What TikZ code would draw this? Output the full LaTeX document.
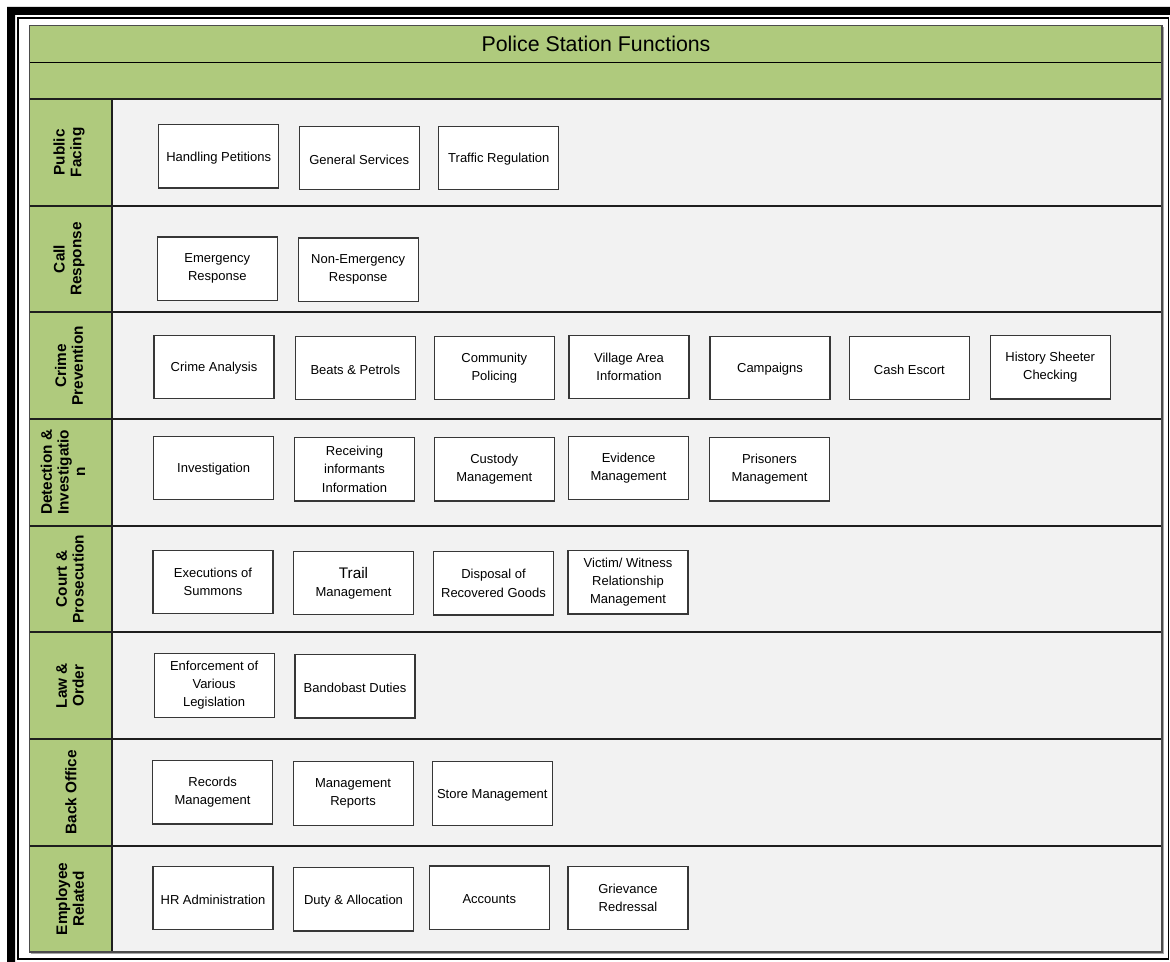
\documentclass[tikz,border=0pt]{standalone}
\usepackage{fontspec}
\setmainfont{Liberation Sans}
\definecolor{hdrgreen}{RGB}{175,202,125}
\definecolor{lanegray}{RGB}{242,242,242}
\definecolor{boxedge}{RGB}{55,55,55}
\definecolor{rule}{RGB}{30,30,30}

\begin{document}
\begin{tikzpicture}[x=0.75pt,y=-0.75pt,
  fn/.style={draw=boxedge, line width=0.9pt, fill=white, minimum width=90pt,
    minimum height=47.5pt, inner sep=1pt, align=center,
    font=\fontsize{9.75}{13.6}\selectfont,
    execute at begin node={\rule{0pt}{9.4pt}}},
  lanelabel/.style={rotate=90, align=center, inner sep=0pt,
    font=\bfseries\fontsize{11.5}{12.5}\selectfont},
  lanerule/.style={line width=1.5pt, draw=rule},
  pageframe/.style={line width=1.2pt, draw=black},
]
\useasboundingbox (0,0) rectangle (1170,962);
\fill[white] (0,0) rectangle (1170,962);

% page border: thick outer band with thin inner line
\fill[black] (7,962) -- (7,7) -- (1170,7) -- (1170,15) -- (15,15) -- (15,962) -- cycle;
\draw[pageframe] (18.2,18.2) -- (1168.3,18.2) -- (1168.3,959) -- (18.2,959) -- cycle;

% table background
\fill[hdrgreen] (29.5,25.7) rectangle (1162,99);
\fill[hdrgreen] (29.5,99) rectangle (112,952);
\fill[lanegray] (112,99) rectangle (1162,952);

% shadow of the table edge
\draw[gray!70, line width=1pt] (1163.6,27) -- (1163.6,953.5) -- (31,953.5);

% header rules
\draw[black, line width=0.9pt] (29.5,62.3) -- (1162,62.3);
\draw[lanerule, line width=1.8pt] (29.5,99) -- (1162,99);

% lane separators
\foreach \yy in {205.7,312.3,419,525.7,632.3,739,845.7}
  \draw[lanerule] (29.5,\yy) -- (1162,\yy);
\draw[lanerule, line width=1.3pt] (112,99) -- (112,952);

% table outline
\draw[black!70, line width=1pt] (29.5,25.7) rectangle (1162,952);

% title
\node[font=\fontsize{16}{18}\selectfont] (title) at (596,44) {Police Station Functions};

% lane labels
\node[lanelabel] (lpub)  at (69,152.3) {Public\\Facing};
\node[lanelabel] (lcall) at (69,259)   {Call\\Response};
\node[lanelabel] (lcri)  at (69,365.7) {Crime\\Prevention};
\node[lanelabel] (ldet)  at (63,472.3) {Detection \&\\Investigatio\\n};
\node[lanelabel] (lcrt)  at (70,579)   {Court \&\\Prosecution};
\node[lanelabel] (llaw)  at (70,685.7) {Law \&\\Order};
\node[lanelabel] (lbck)  at (71,792.3) {Back Office};
\node[lanelabel] (lemp)  at (70,899)   {Employee\\Related};

% Public Facing
\node[fn] (pet)  at (218.7,156.3) {Handling Petitions};
\node[fn] (gen)  at (359.2,158)   {General Services};
\node[fn] (traf) at (498.8,158)   {Traffic Regulation};

% Call Response
\node[fn] (emer)  at (217.3,268.7) {Emergency\\Response};
\node[fn] (nonem) at (358.2,269.7) {Non-Emergency\\Response};

% Crime Prevention
\node[fn] (crime) at (214,367)     {Crime Analysis};
\node[fn] (beats) at (355.3,368.2) {Beats \& Petrols};
\node[fn] (comm)  at (494.3,368)   {Community\\Policing};
\node[fn] (vill)  at (629,367)     {Village Area\\Information};
\node[fn] (camp)  at (770,368)     {Campaigns};
\node[fn] (cash)  at (909.3,368)   {Cash Escort};
\node[fn] (hist)  at (1050.2,367.3){History Sheeter\\Checking};

% Detection & Investigation
\node[fn] (inv)  at (213.7,468)   {Investigation};
\node[fn] (recv) at (354.5,469.3) {Receiving\\informants\\Information};
\node[fn] (cust) at (494.2,469.3) {Custody\\Management};
\node[fn] (evid) at (628.5,468)   {Evidence\\Management};
\node[fn] (pris) at (769.5,469.3) {Prisoners\\Management};

% Court & Prosecution
\node[fn] (exec)  at (213,582)     {Executions of\\Summons};
\node[fn] (trail) at (353.5,583)   {{\fontsize{11.5}{13.6}\selectfont Trail}\\Management};
\node[fn] (disp)  at (493.5,583.3) {Disposal of\\Recovered Goods};
\node[fn] (vict)  at (628,582.3)   {Victim/ Witness\\Relationship\\Management};

% Law & Order
\node[fn] (enf)  at (214.1,685.5) {Enforcement of\\Various\\Legislation};
\node[fn] (band) at (355,686.3)   {Bandobast Duties};

% Back Office
\node[fn] (rec)   at (212.6,792.3) {Records\\Management};
\node[fn] (mrep)  at (353.1,793.5) {Management\\Reports};
\node[fn] (store) at (492.3,793.5) {Store Management};

% Employee Related
\node[fn] (hr)    at (213,898)     {HR Administration};
\node[fn] (duty)  at (353.5,899.3) {Duty \& Allocation};
\node[fn] (acc)   at (489.3,897.7) {Accounts};
\node[fn] (griev) at (628,898)     {Grievance\\Redressal};
\end{tikzpicture}
\end{document}
